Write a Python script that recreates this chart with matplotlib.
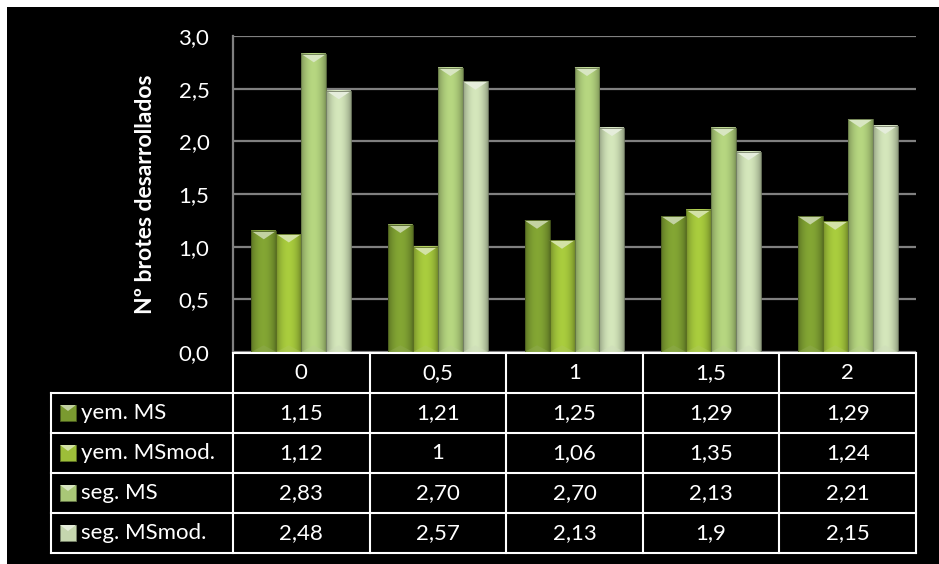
import numpy as np
import matplotlib.pyplot as plt
from matplotlib.patches import Rectangle, Polygon
from matplotlib.colors import to_rgb

plt.rcParams['font.family'] = ['Lato', 'DejaVu Sans']

# concentraciones (columnas de la tabla)
categories = ['0', '0,5', '1', '1,5', '2']
series_names = ['yem. MS', 'yem. MSmod.', 'seg. MS', 'seg. MSmod.']
yem_ms = [1.15, 1.21, 1.25, 1.29, 1.29]
yem_msmod = [1.12, 1.00, 1.06, 1.35, 1.24]
seg_ms = [2.83, 2.70, 2.70, 2.13, 2.21]
seg_msmod = [2.48, 2.57, 2.13, 1.90, 2.15]
table_labels = [
    ['1,15', '1,21', '1,25', '1,29', '1,29'],
    ['1,12', '1', '1,06', '1,35', '1,24'],
    ['2,83', '2,70', '2,70', '2,13', '2,21'],
    ['2,48', '2,57', '2,13', '1,9', '2,15'],
]
yticks = [0, 0.5, 1.0, 1.5, 2.0, 2.5, 3.0]

series = [yem_ms, yem_msmod, seg_ms, seg_msmod]
colors = ['#7a9a30', '#9dbe39', '#a9c777', '#c5d6ae']

W, H = 939, 564
FS = 16
fig = plt.figure(figsize=(W / 100, H / 100), dpi=100)
fig.patch.set_facecolor('white')


def fx(x):
    return x / W


def fy(y):
    return 1 - y / H


# fondo negro
fig.patches.append(Rectangle((fx(7), 0), 1, fy(7), transform=fig.transFigure,
                             facecolor='black', edgecolor='none', zorder=-5))

ax = fig.add_axes([fx(233), fy(352), fx(916) - fx(233), fy(36) - fy(352)])
ax.set_facecolor('black')


def shaded(color, n=64):
    base = np.array(to_rgb(color))
    t = np.linspace(0, 1, n)
    k = 0.72 + 0.36 * np.sin(np.pi * t) ** 0.7
    img = np.clip(base[None, :] * k[:, None], 0, 1)
    return img[None, :, :]


def lighter(color, a):
    base = np.array(to_rgb(color))
    return tuple(base + (1 - base) * a)


bw = 0.183
xs = np.arange(len(categories))
bevel = 0.08
for i, (vals, c) in enumerate(zip(series, colors)):
    grad = shaded(c)
    for x, v in zip(xs + (i - 1.5) * bw, vals):
        x0, x1 = x - bw / 2, x + bw / 2
        ax.imshow(grad, extent=[x0, x1, 0, v], aspect='auto', zorder=3,
                  interpolation='bilinear')
        ax.add_patch(Polygon([(x0, v), (x1, v), (x, v - bevel)], closed=True,
                             facecolor=lighter(c, 0.55), edgecolor='none', zorder=4))
        ax.add_patch(Polygon([(x0, 0), (x1, 0), (x, bevel * 0.8)], closed=True,
                             facecolor=lighter(c, 0.15), edgecolor='none',
                             alpha=0.5, zorder=4))
        ax.add_patch(Rectangle((x0, 0), bw, v, facecolor='none',
                               edgecolor=tuple(np.array(to_rgb(c)) * 0.6),
                               linewidth=0.6, zorder=5))

ax.set_xlim(-0.5, len(categories) - 0.5)
ax.set_ylim(0, 3.0)
ax.set_yticks(yticks)
ax.set_yticklabels([f'{t:.1f}'.replace('.', ',') for t in yticks],
                   color='white', fontsize=FS)
ax.tick_params(axis='y', length=0, pad=17)
ax.set_xticks([])
ax.grid(axis='y', color='#808080', linewidth=1.6, zorder=1)
for s in ['top', 'right', 'bottom']:
    ax.spines[s].set_visible(False)
ax.spines['left'].set_color('#808080')
ax.spines['left'].set_linewidth(1.6)
ax.set_ylabel('Nº brotes desarrollados', color='white', fontsize=16.5,
              fontweight='bold', labelpad=16)

# tabla de datos
col_x = np.linspace(233, 916, len(categories) + 1)
row_y = [353, 393, 433, 473, 513, 553]
left_x = 51
lw = 1.5
line_kw = dict(transform=fig.transFigure, color='white', linewidth=lw, zorder=6)

fig.add_artist(plt.Line2D([fx(col_x[0]), fx(col_x[-1])], [fy(row_y[0])] * 2, **line_kw))
for y in row_y[1:]:
    fig.add_artist(plt.Line2D([fx(left_x), fx(col_x[-1])], [fy(y)] * 2, **line_kw))
fig.add_artist(plt.Line2D([fx(left_x)] * 2, [fy(row_y[1]), fy(row_y[-1])], **line_kw))
for x in col_x:
    fig.add_artist(plt.Line2D([fx(x)] * 2, [fy(row_y[0]), fy(row_y[-1])], **line_kw))

for j, cat in enumerate(categories):
    cx = (col_x[j] + col_x[j + 1]) / 2
    cy = (row_y[0] + row_y[1]) / 2
    fig.text(fx(cx), fy(cy), cat, color='white', fontsize=FS,
             ha='center', va='center')

for i, name in enumerate(series_names):
    cy = (row_y[i + 1] + row_y[i + 2]) / 2
    c = colors[i]
    k0, k1 = 60, 76
    fig.patches.append(Rectangle((fx(k0), fy(cy + 8)), fx(k1) - fx(k0), fy(cy - 8) - fy(cy + 8),
                                 transform=fig.transFigure, facecolor=c,
                                 edgecolor=tuple(np.array(to_rgb(c)) * 0.6),
                                 linewidth=0.6, zorder=6))
    fig.patches.append(Polygon([(fx(k0), fy(cy - 8)), (fx(k1), fy(cy - 8)),
                                (fx((k0 + k1) / 2), fy(cy - 2))], closed=True,
                               transform=fig.transFigure, facecolor=lighter(c, 0.55),
                               edgecolor='none', zorder=7))
    fig.text(fx(81), fy(cy), name, color='white', fontsize=FS,
             ha='left', va='center')
    for j in range(len(categories)):
        cx = (col_x[j] + col_x[j + 1]) / 2
        fig.text(fx(cx), fy(cy), table_labels[i][j], color='white', fontsize=FS,
                 ha='center', va='center')

fig.savefig('out.png', dpi=100, facecolor=fig.get_facecolor())
